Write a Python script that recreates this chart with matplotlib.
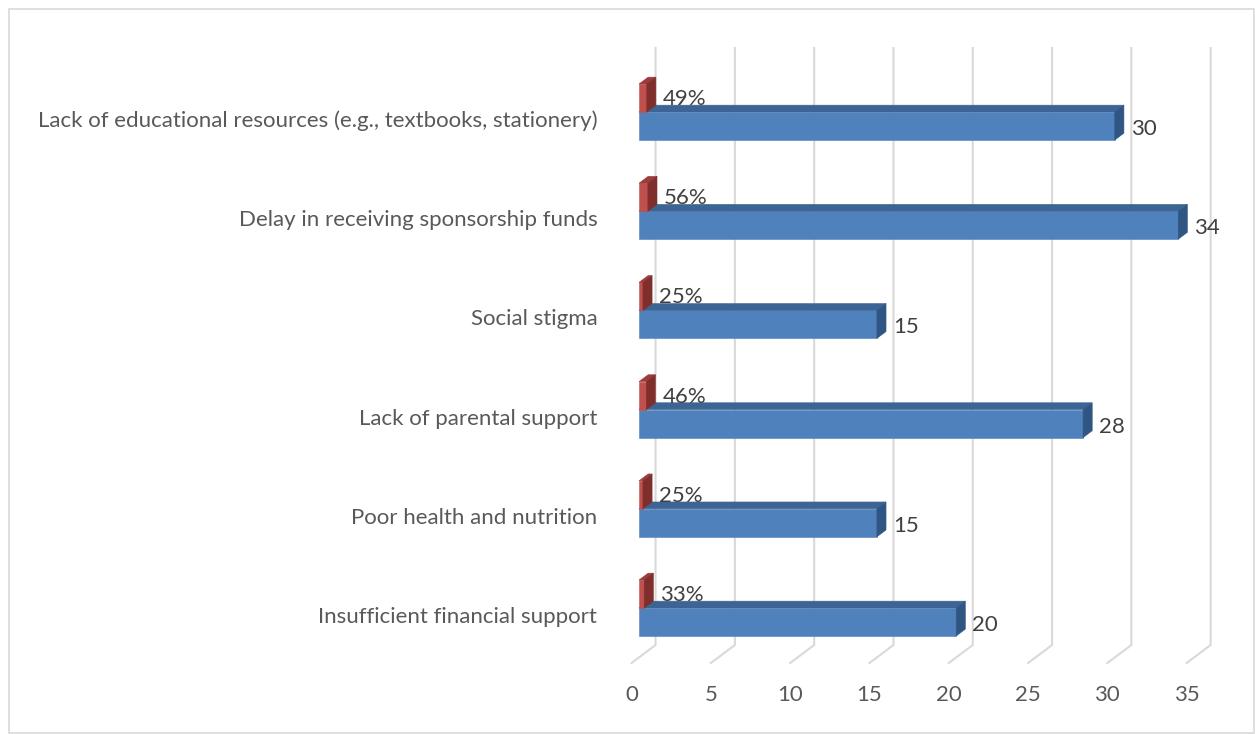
import matplotlib
matplotlib.use("Agg")
import matplotlib.pyplot as plt
from matplotlib.patches import Polygon, Rectangle
from matplotlib.transforms import ScaledTranslation

# ---- data ----
categories = [
    "Insufficient financial support",
    "Poor health and nutrition",
    "Lack of parental support",
    "Social stigma",
    "Delay in receiving sponsorship funds",
    "Lack of educational resources (e.g., textbooks, stationery)",
]
counts = [20, 15, 28, 15, 34, 30]
shares = [0.33, 0.25, 0.46, 0.25, 0.56, 0.49]
share_labels = ["33%", "25%", "46%", "25%", "56%", "49%"]
x_ticks = [0, 5, 10, 15, 20, 25, 30, 35]

# ---- style ----
FONT = "Lato"
FS = 16
BLUE_FRONT, BLUE_TOP, BLUE_SIDE = "#4F81BD", "#3D6593", "#2F5583"
RED_FRONT, RED_TOP, RED_SIDE = "#C0504D", "#9C3D3B", "#7F2E2C"
GRID = "#D9D9D9"
LABEL_GREY = "#595959"
VALUE_GREY = "#404040"

W, H, DPI = 1255, 734, 100
fig = plt.figure(figsize=(W / DPI, H / DPI), dpi=DPI)

# plot area (pixel geometry of the value axis)
px_per_unit = 15.86
px_per_cat = 99.2
x0_px = 639.0
xmax = 35.0
y_top_px, y_bot_px = 48.0, 663.0
base_px = 608.0  # red/blue boundary of first category
ymin = (base_px - y_bot_px) / px_per_cat
ymax = (base_px - y_top_px) / px_per_cat
ax = fig.add_axes([x0_px / W, (H - y_bot_px) / H,
                   xmax * px_per_unit / W, (y_bot_px - y_top_px) / H])
ax.set_xlim(0, xmax)
ax.set_ylim(ymin, ymax)
for s in ax.spines.values():
    s.set_visible(False)

# 3D depth: full floor depth vector and bar placement along it
DX = 24.0 / px_per_unit
DY = 18.0 / px_per_cat
d_front, d_back = 0.31, 0.69
bar_h = 28.0 / px_per_cat
bdx = (d_back - d_front) * DX
bdy = (d_back - d_front) * DY


def depth(v, y, d):
    return v + (d - d_front) * DX, y + (d - d_front) * DY


# back wall gridlines and floor lines
floor_y = ymin + d_front * DY
for t in x_ticks:
    bx, by = depth(t, floor_y, 1.0)
    fx, fy = depth(t, floor_y, 0.0)
    ax.plot([bx, bx, fx], [ymax, by, fy], color=GRID, lw=1.5,
            solid_joinstyle="miter", clip_on=False, zorder=1)


def box(v, y0, front, top, side):
    polys = [
        ([(0, y0), (v, y0), (v, y0 + bar_h), (0, y0 + bar_h)], front),
        ([(0, y0 + bar_h), (v, y0 + bar_h), (v + bdx, y0 + bar_h + bdy),
          (bdx, y0 + bar_h + bdy)], top),
        ([(v, y0), (v + bdx, y0 + bdy), (v + bdx, y0 + bar_h + bdy),
          (v, y0 + bar_h)], side),
    ]
    for pts, c in polys:
        ax.add_patch(Polygon(pts, closed=True, facecolor=c, edgecolor=c,
                             lw=0.4, clip_on=False, zorder=3))


gap_units = 7.0 / px_per_unit
for i, (n, s, lab) in enumerate(zip(counts, shares, share_labels)):
    box(n, i - bar_h, BLUE_FRONT, BLUE_TOP, BLUE_SIDE)
    box(s, i, RED_FRONT, RED_TOP, RED_SIDE)
    ax.text(n + bdx + gap_units, i - bar_h / 2 - 0.03, f"{n}", ha="left",
            va="center", fontsize=FS, color=VALUE_GREY, family=FONT, zorder=5)
    ax.text(s + bdx + gap_units, i + bar_h / 2 - 0.01, lab, ha="left",
            va="center", fontsize=FS, color=VALUE_GREY, family=FONT, zorder=5)

# category labels
ax.set_yticks([i - 0.07 for i in range(len(categories))])
ax.set_yticklabels(categories, fontsize=FS, color=LABEL_GREY, family=FONT)
ax.tick_params(axis="y", length=0, pad=30)

# value labels sit under the front edge of the floor
ax.set_xticks(x_ticks)
ax.set_xticklabels([str(t) for t in x_ticks], fontsize=FS,
                   color=LABEL_GREY, family=FONT)
ax.tick_params(axis="x", length=0, pad=16)
shift = ScaledTranslation(-(d_front * 24.0) / DPI, 0, fig.dpi_scale_trans)
for tl in ax.get_xticklabels():
    tl.set_transform(tl.get_transform() + shift)

# chart frame
fig.patches.append(Rectangle((8.5 / W, 1.5 / H), (W - 10) / W, (H - 10) / H,
                             transform=fig.transFigure, fill=False,
                             edgecolor=GRID, lw=1.2))

fig.savefig("out.png", dpi=DPI)
